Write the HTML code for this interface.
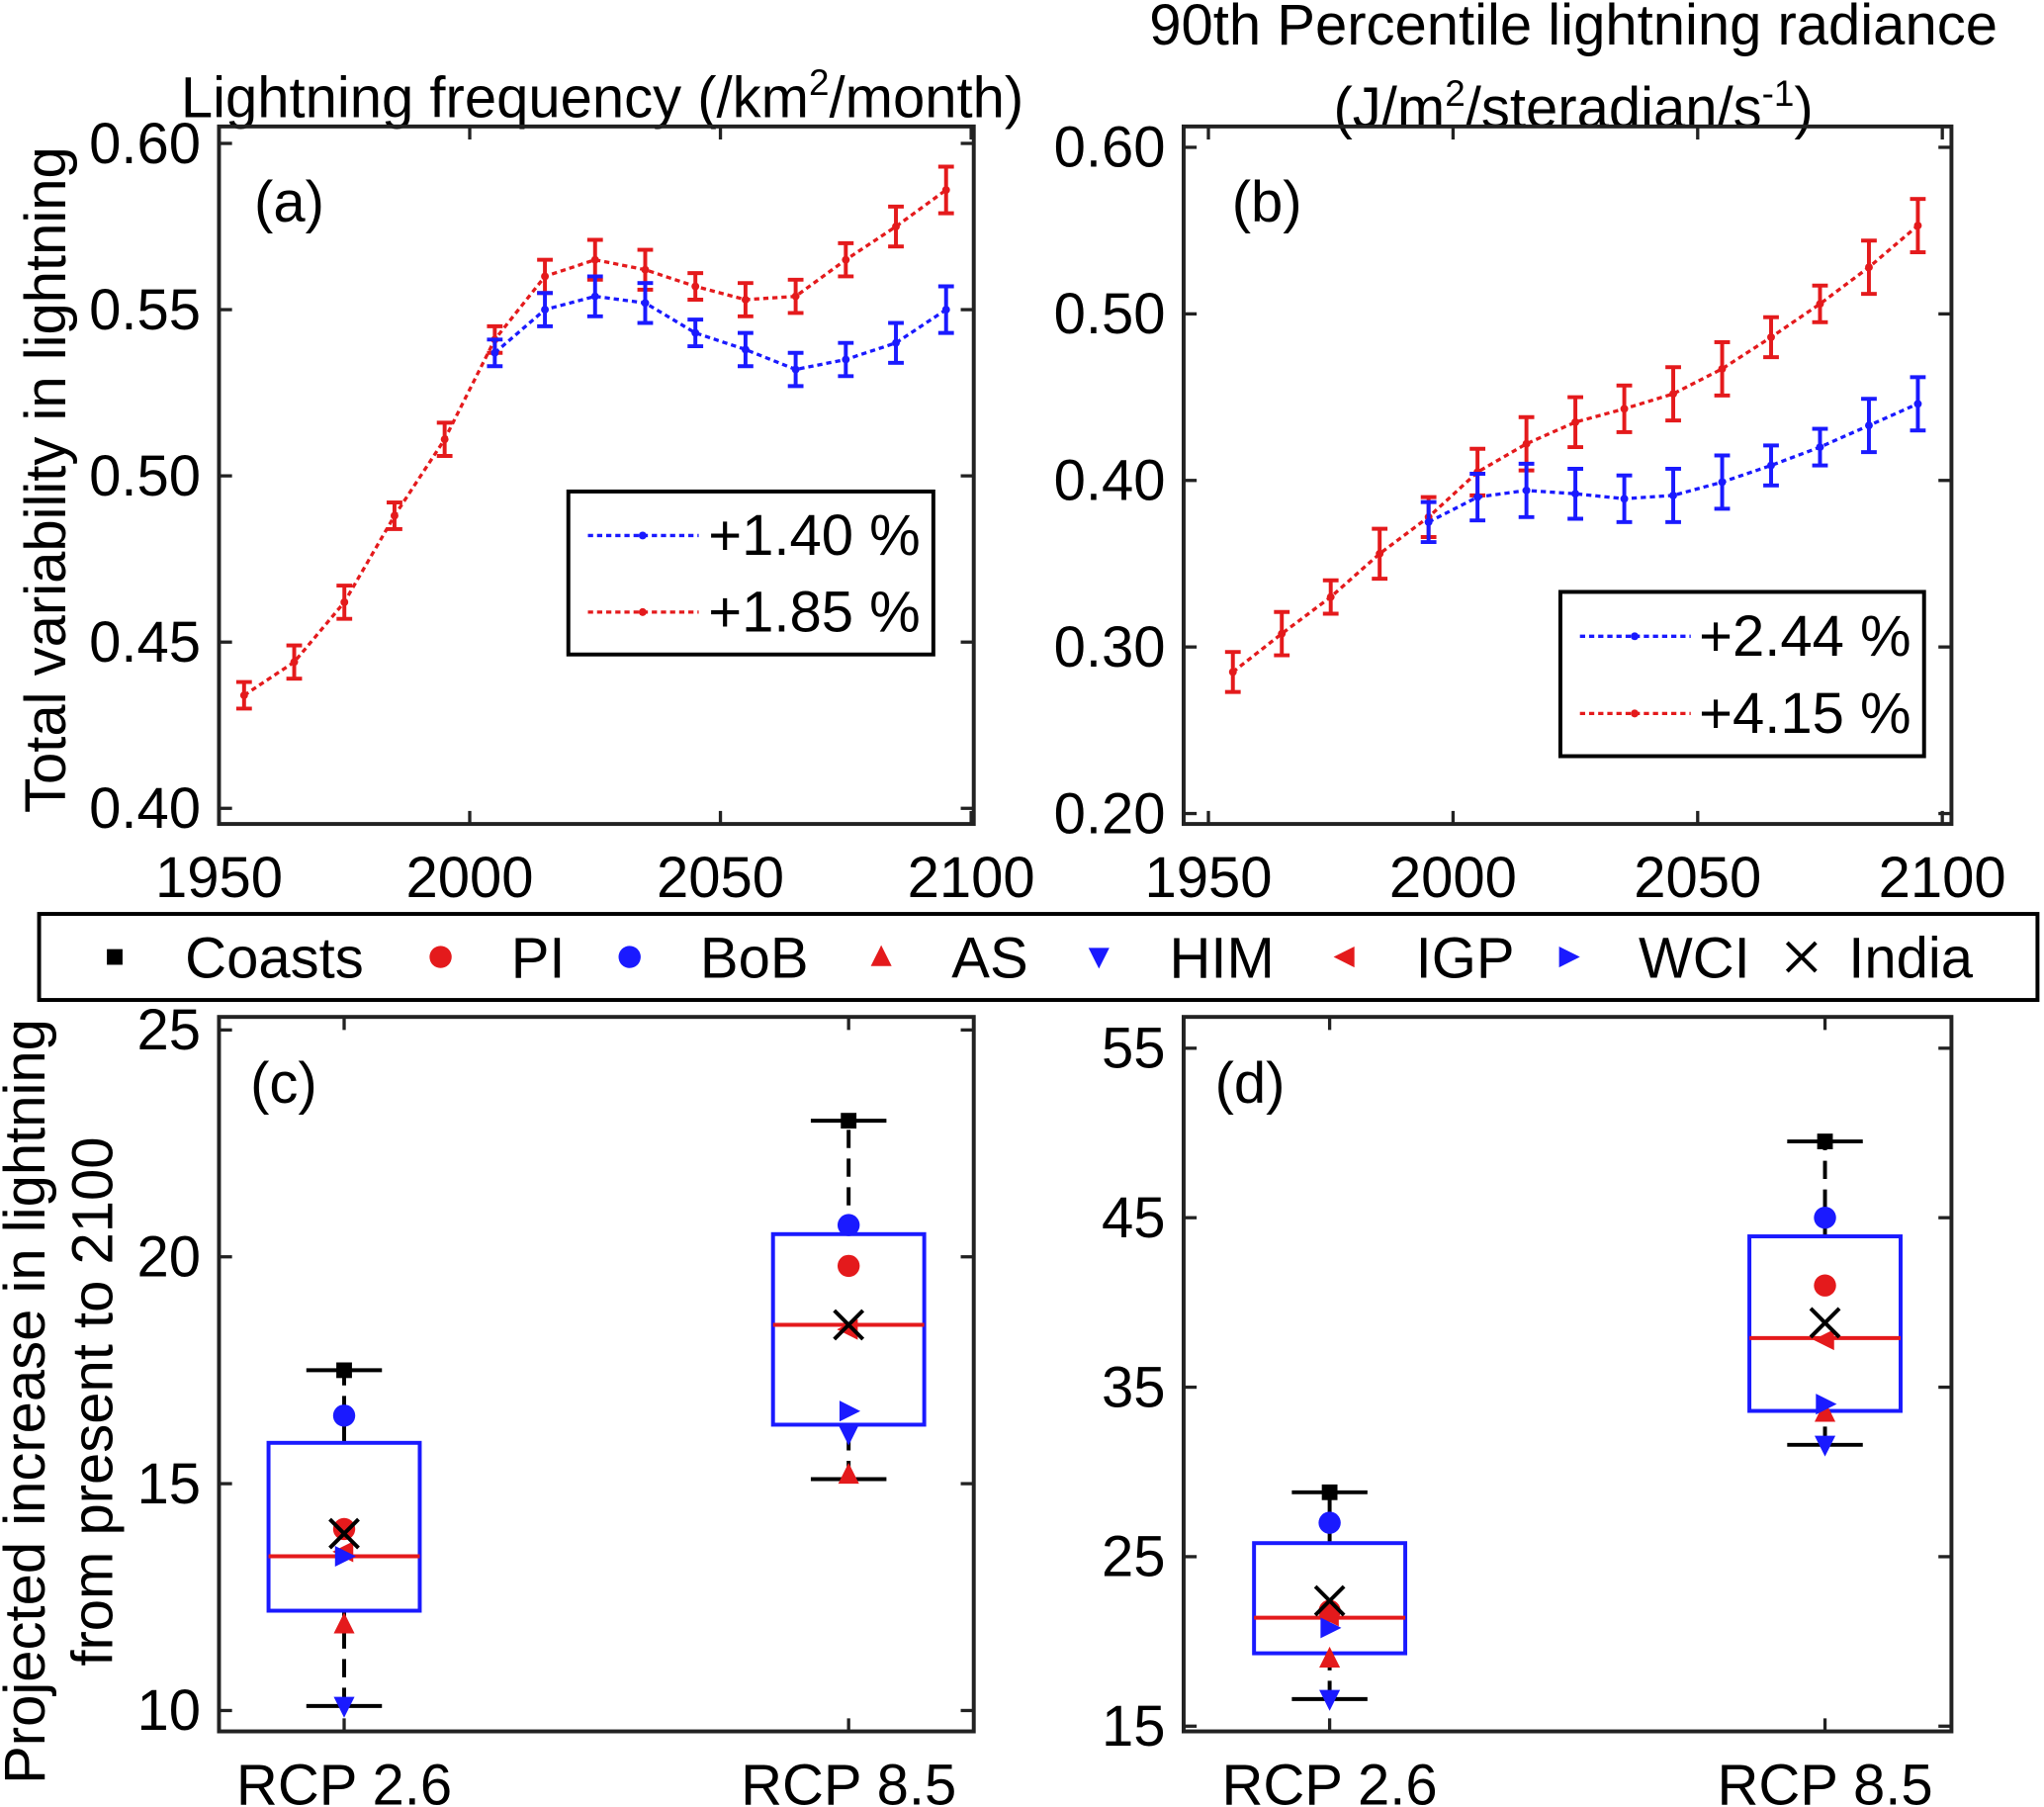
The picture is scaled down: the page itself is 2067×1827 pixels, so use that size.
<!DOCTYPE html>
<html><head><meta charset="utf-8"><style>
html,body{margin:0;padding:0;background:#fff}
svg{display:block;font-family:"Liberation Sans",Arial,sans-serif}
</style></head><body>
<svg id="fig" xmlns="http://www.w3.org/2000/svg" width="2067" height="1827" viewBox="0 0 1568 1386" preserveAspectRatio="none">
<rect width="1568" height="1386" fill="#fff"/>
<text x="462" y="90" font-size="44" text-anchor="middle">Lightning frequency (/km<tspan font-size="28" dy="-17">2</tspan><tspan dy="17">/month)</tspan></text>
<text x="1207" y="34" font-size="44" text-anchor="middle">90th Percentile lightning radiance</text>
<text x="1207" y="98" font-size="44" text-anchor="middle">(J/m<tspan font-size="28" dy="-17">2</tspan><tspan dy="17">/steradian/s</tspan><tspan font-size="28" dy="-17">-1</tspan><tspan dy="17">)</tspan></text>
<text transform="translate(50,368) rotate(-90)" font-size="44" text-anchor="middle">Total variability in lightning</text>
<text transform="translate(34,1075) rotate(-90)" font-size="44" text-anchor="middle">Projected increase in lightning</text>
<text transform="translate(86,1075) rotate(-90)" font-size="44" text-anchor="middle">from present to 2100</text>
<g id="root"></g>
</svg>
<script>
// ---- data ----
const years = [1955,1965,1975,1985,1995,2005,2015,2025,2035,2045,2055,2065,2075,2085,2095];
const aRed  = [0.434,0.444,0.462,0.488,0.511,0.541,0.560,0.565,0.562,0.557,0.553,0.554,0.565,0.575,0.586];
const aBlue = [null,null,null,null,null,0.537,0.550,0.554,0.552,0.543,0.538,0.532,0.535,0.540,0.550];
const aErr  = [0.004,0.005,0.005,0.004,0.005,0.004,0.005,0.006,0.006,0.004,0.005,0.005,0.005,0.006,0.007];
const bRed  = [0.285,0.308,0.330,0.356,0.378,0.405,0.422,0.435,0.443,0.452,0.467,0.486,0.506,0.528,0.553];
const bBlue = [null,null,null,null,0.375,0.390,0.394,0.392,0.389,0.391,0.399,0.409,0.420,0.433,0.446];
const bErr  = [0.012,0.013,0.010,0.015,0.012,0.014,0.016,0.015,0.014,0.016,0.016,0.012,0.011,0.016,0.016];
const aTicks = [0.40,0.45,0.50,0.55,0.60];
const bTicks = [0.20,0.30,0.40,0.50,0.60];
const xTicks = [1950,2000,2050,2100];
const legendA = ['+1.40 %','+1.85 %'];
const legendB = ['+2.44 %','+4.15 %'];
const scen = ['RCP 2.6','RCP 8.5'];
// box stats: [whiskerLow, q1, median, q3, whiskerHigh]
const cBox = [[10.1,12.2,13.4,15.9,17.5],[15.1,16.3,18.5,20.5,23.0]];
const dBox = [[16.6,19.3,21.4,25.8,28.8],[31.6,33.6,37.9,43.9,49.5]];
const regions = ['Coasts','PI','BoB','AS','HIM','IGP','WCI','India'];
const cPts = [[17.5,14.0,16.5,11.9,10.1,13.5,13.4,13.9],[23.0,19.8,20.7,15.2,16.1,18.4,16.6,18.5]];
const dPts = [[28.8,21.8,27.0,19.0,16.6,21.5,20.8,22.4],[49.5,41.0,45.0,33.5,31.6,37.8,34.0,38.8]];
const cTicks = [10,15,20,25];
const dTicks = [15,25,35,45,55];

const NS='http://www.w3.org/2000/svg';
const root=document.getElementById('root');
const FS=44;
function el(tag,attrs,parent,txt){const e=document.createElementNS(NS,tag);for(const k in attrs)e.setAttribute(k,attrs[k]);if(txt!==undefined)e.textContent=txt;(parent||root).appendChild(e);return e;}
function lin(d0,d1,r0,r1){return v=>r0+(v-d0)*(r1-r0)/(d1-d0);}

function axesBox(x0,y0,x1,y1,name){
  const g=el('g',{});
  
  
  el('rect',{x:x0,y:y0,width:x1-x0,height:y1-y0,fill:'none',stroke:'#222','stroke-width':3},g);
  return g;
}
function yTicksDraw(g,ticks,ys,x0,x1,fmt,yTop){
  ticks.forEach(t=>{let y=ys(t); if(yTop!==undefined&&y<yTop) y=yTop;
    el('line',{x1:x0,y1:y,x2:x0+10,y2:y,stroke:'#222','stroke-width':2.5},g);
    el('line',{x1:x1,y1:y,x2:x1-10,y2:y,stroke:'#222','stroke-width':2.5},g);
    const tx=el('text',{x:x0-14,y:y+15,'font-size':FS,'text-anchor':'end'},g,fmt(t));
    
    
  });
}
function xTicksDraw(g,ticks,xs,y0,y1,labels){
  ticks.forEach((t,i)=>{const x=xs(t);
    el('line',{x1:x,y1:y1,x2:x,y2:y1-10,stroke:'#222','stroke-width':2.5},g);
    el('line',{x1:x,y1:y0,x2:x,y2:y0+10,stroke:'#222','stroke-width':2.5},g);
    const tx=el('text',{x:x,y:y1+56,'font-size':FS,'text-anchor':'middle'},g,labels?labels[i]:String(t));
    
    
  });
}
function series(g,vals,errs,xs,ys,color,name){
  const sg=el('g',{},g);
  
  
  let pts=[];
  years.forEach((yr,i)=>{if(vals[i]!=null)pts.push([xs(yr),ys(vals[i]),ys(vals[i]-errs[i]),ys(vals[i]+errs[i])]);});
  el('polyline',{points:pts.map(p=>p[0]+','+p[1]).join(' '),fill:'none',stroke:color,'stroke-width':2.5,'stroke-dasharray':'4,3'},sg);
  pts.forEach(p=>{
    el('line',{x1:p[0],y1:p[2],x2:p[0],y2:p[3],stroke:color,'stroke-width':3},sg);
    el('line',{x1:p[0]-6,y1:p[2],x2:p[0]+6,y2:p[2],stroke:color,'stroke-width':3},sg);
    el('line',{x1:p[0]-6,y1:p[3],x2:p[0]+6,y2:p[3],stroke:color,'stroke-width':3},sg);
    el('circle',{cx:p[0],cy:p[1],r:3,fill:color},sg);
  });
}
function legendLines(g,x,y,w,h,labels){
  const lg=el('g',{},g);
  
  
  el('rect',{x:x,y:y,width:w,height:h,fill:'#fff',stroke:'#000','stroke-width':3},lg);
  ['#1a1aff','#e41a1c'].forEach((c,i)=>{const yy=y+h*(0.27+0.47*i);
    el('line',{x1:x+15,y1:yy,x2:x+100,y2:yy,stroke:c,'stroke-width':2.5,'stroke-dasharray':'4,3'},lg);
    el('circle',{cx:x+57,cy:yy,r:3,fill:c},lg);
    const t=el('text',{x:x+w-10,y:yy+15,'font-size':FS,'text-anchor':'end'},lg,labels[i]);
    
    
  });
}
// panel a
{const x0=168,x1=747,y0=97,y1=632;
 const g=axesBox(x0,y0,x1,y1,'panel-a');
 const xs=lin(1950,2100,168,745), ys=lin(0.40,0.60,620,110);
 yTicksDraw(g,aTicks,ys,x0,x1,t=>t.toFixed(2));
 xTicksDraw(g,xTicks,xs,y0,y1);
 series(g,aRed,aErr,xs,ys,'#e41a1c','series-rcp85-a');
 series(g,aBlue,aErr,xs,ys,'#1a1aff','series-rcp26-a');
 el('text',{x:195,y:170,'font-size':FS},g,'(a)');
 legendLines(g,436,377,280,125,legendA);}
// panel b
{const x0=908,x1=1497,y0=97,y1=632;
 const g=axesBox(x0,y0,x1,y1,'panel-b');
 const xs=lin(1950,2100,927,1490), ys=lin(0.20,0.60,624,113);
 yTicksDraw(g,bTicks,ys,x0,x1,t=>t.toFixed(2));
 xTicksDraw(g,xTicks,xs,y0,y1);
 series(g,bRed,bErr,xs,ys,'#e41a1c','series-rcp85-b');
 series(g,bBlue,bErr,xs,ys,'#1a1aff','series-rcp26-b');
 el('text',{x:945,y:170,'font-size':FS},g,'(b)');
 legendLines(g,1197,454,279,126,legendB);}
// marker drawing
const mColors=['#000','#e41a1c','#1a1aff','#e41a1c','#1a1aff','#e41a1c','#1a1aff','#000'];
function marker(g,i,x,y){
  const c=mColors[i];
  if(i===0) return el('rect',{x:x-6,y:y-6,width:12,height:12,fill:c},g);
  if(i===1||i===2) return el('circle',{cx:x,cy:y,r:8.5,fill:c},g);
  if(i===3) return el('polygon',{points:`${x},${y-9} ${x-8},${y+7} ${x+8},${y+7}`,fill:c},g);
  if(i===4) return el('polygon',{points:`${x},${y+9} ${x-8},${y-7} ${x+8},${y-7}`,fill:c},g);
  if(i===5) return el('polygon',{points:`${x-9},${y} ${x+7},${y-8} ${x+7},${y+8}`,fill:c},g);
  if(i===6) return el('polygon',{points:`${x+9},${y} ${x-7},${y-8} ${x-7},${y+8}`,fill:c},g);
  const gg=el('g',{},g);
  el('line',{x1:x-11,y1:y-11,x2:x+11,y2:y+11,stroke:c,'stroke-width':3},gg);
  el('line',{x1:x-11,y1:y+11,x2:x+11,y2:y-11,stroke:c,'stroke-width':3},gg);
  return gg;
}
// region legend
{const lg=el('g',{});
 
 
 el('rect',{x:30,y:701,width:1533,height:66,fill:'#fff',stroke:'#000','stroke-width':3},lg);
 const mx=[88,338,483,676,843,1032,1203,1382];
 regions.forEach((r,i)=>{
   const it=el('g',{},lg);
   
   
   marker(it,i,mx[i],734);
   el('text',{x:mx[i]+(i===7?36:54),y:750,'font-size':FS},it,r);
 });}
function boxPanel(x0,x1,y0,y1,ys,ticks,xpos,boxes,pts,label,name){
  const g=axesBox(x0,y0,x1,y1,name);
  yTicksDraw(g,ticks,ys,x0,x1,t=>String(t),y0);
  xTicksDraw(g,[0,1],i=>xpos[i],y0,y1,scen);
  el('text',{x:x0+24,y:y0+66,'font-size':FS},g,label);
  boxes.forEach((b,k)=>{
    const bg=el('g',{},g);
    
    
    const x=xpos[k],hw=58;
    el('line',{x1:x,y1:ys(b[0]),x2:x,y2:ys(b[1]),stroke:'#000','stroke-width':3,'stroke-dasharray':'14,8'},bg);
    el('line',{x1:x,y1:ys(b[3]),x2:x,y2:ys(b[4]),stroke:'#000','stroke-width':3,'stroke-dasharray':'14,8'},bg);
    el('line',{x1:x-29,y1:ys(b[0]),x2:x+29,y2:ys(b[0]),stroke:'#000','stroke-width':3},bg);
    el('line',{x1:x-29,y1:ys(b[4]),x2:x+29,y2:ys(b[4]),stroke:'#000','stroke-width':3},bg);
    el('rect',{x:x-hw,y:ys(b[3]),width:2*hw,height:ys(b[1])-ys(b[3]),fill:'none',stroke:'#1a1aff','stroke-width':3},bg);
    el('line',{x1:x-hw,y1:ys(b[2]),x2:x+hw,y2:ys(b[2]),stroke:'#e41a1c','stroke-width':3},bg);
    pts[k].forEach((v,i)=>marker(bg,i,x,ys(v)));
  });
}
boxPanel(168,747,780,1328,lin(10,25,1312,790),cTicks,[264,651],cBox,cPts,'(c)','panel-c');
boxPanel(908,1497,780,1328,lin(15,45,1324,934),dTicks,[1020,1400],dBox,dPts,'(d)','panel-d');
</script>
</body></html>
